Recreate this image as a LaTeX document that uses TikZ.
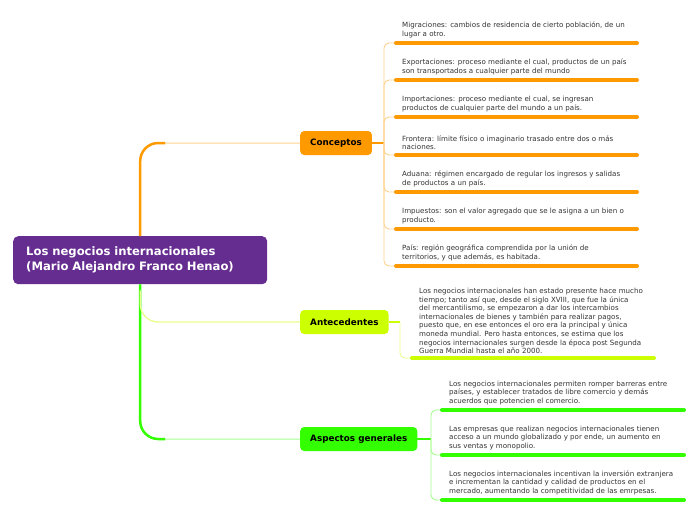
\documentclass[tikz,border=0pt]{standalone}
\usepackage{fontspec}
\setmainfont{DejaVu Sans}
\usetikzlibrary{positioning}
\definecolor{rootpurple}{HTML}{662D91}
\definecolor{concorange}{HTML}{FF9900}
\definecolor{antlime}{HTML}{CCFF00}
\definecolor{aspgreen}{HTML}{33FF00}
\definecolor{leafgray}{HTML}{333333}

\begin{document}
\begin{tikzpicture}[x=1pt, y=-1pt,
  topic/.style={fill=#1, rounded corners=4pt, anchor=west, inner xsep=10pt,
                minimum height=24pt, font=\fontsize{8.8}{10}\selectfont\bfseries},
  leaf/.style={anchor=south west, inner sep=0pt, align=left, text=leafgray,
               font=\fontsize{7.1}{8.6}\selectfont},
  uline/.style={line width=4pt, line cap=round, #1},
  trunk/.style={line width=2.5pt, rounded corners=18pt, #1},
  twig/.style={line width=1pt, rounded corners=18pt, #1!45},
  brk/.style={line width=0.9pt, rounded corners=5pt, #1!45},
]
\useasboundingbox (0,0) rectangle (696,520);
% Nodos
\node[fill=rootpurple, rounded corners=5pt, anchor=north west, text=white,
      minimum width=254pt, minimum height=48pt, text width=228pt, inner xsep=13pt,
      align=left, font=\fontsize{11.6}{15}\selectfont\bfseries]
      (root) at (13,236) {Los negocios internacionales\\(Mario Alejandro Franco Henao)};
\node[topic=concorange] (conc) at (300,143) {Conceptos};
\node[topic=antlime]    (ant)  at (300,322) {Antecedentes};
\node[topic=aspgreen]   (asp)  at (300,439) {Aspectos generales};
% Ramas principales
\coordinate (concbend) at (165,143);
\coordinate (aspbend)  at (165,439);
\draw[twig=concorange] (root.north) |- (conc.west);
\draw[trunk=concorange] (root.north) |- (concbend);
\draw[twig=aspgreen] (root.south) |- (asp.west);
\draw[trunk=aspgreen] (root.south) |- (aspbend);
\draw[twig=antlime, line width=1.3pt] ([yshift=-6pt]root.south) |- (ant.west);
% Conceptos
\node[leaf] (c1) at (402,38)  {Migraciones: cambios de residencia de cierto población, de un\\lugar a otro.};
\node[leaf] (c2) at (402,75)  {Exportaciones: proceso mediante el cual, productos de un país\\son transportados a cualquier parte del mundo};
\node[leaf] (c3) at (402,112) {Importaciones: proceso mediante el cual, se ingresan\\productos de cualquier parte del mundo a un país.};
\node[leaf] (c4) at (402,150) {Frontera: límite físico o imaginario trasado entre dos o más\\naciones.};
\node[leaf] (c5) at (402,187) {Aduana: régimen encargado de regular los ingresos y salidas\\de productos a un país.};
\node[leaf] (c6) at (402,224) {Impuestos: son el valor agregado que se le asigna a un bien o\\producto.};
\node[leaf] (c7) at (402,261) {País: región geográfica comprendida por la unión de\\territorios, y que además, es habitada.};
\coordinate (cj) at (384,143);
\coordinate (cu1) at (396,43);
\coordinate (cu2) at (396,80);
\coordinate (cu3) at (396,117);
\coordinate (cu4) at (396,155);
\coordinate (cu5) at (396,192);
\coordinate (cu6) at (396,229);
\coordinate (cu7) at (396,266);
\draw[line width=2pt, concorange] (conc.east) -- (cj);
\foreach \u in {cu1,cu2,cu3,cu4,cu5,cu6,cu7}{
  \draw[brk=concorange] (cj) |- (\u);
  \draw[uline=concorange] (\u) -- ++(241,0);
}
% Antecedentes
\node[leaf] (a1) at (419,354) {Los negocios internacionales han estado presente hace mucho\\tiempo; tanto así que, desde el siglo XVIII, que fue la única\\del mercantilismo, se empezaron a dar los intercambios\\internacionales de bienes y también para realizar pagos,\\puesto que, en ese entonces el oro era la principal y única\\moneda mundial. Pero hasta entonces, se estima que los\\negocios internacionales surgen desde la época post Segunda\\Guerra Mundial hasta el año 2000.};
\coordinate (aj) at (400,322);
\coordinate (au1) at (412,358);
\draw[line width=2pt, antlime] (ant.east) -- (aj);
\draw[brk=antlime] (aj) |- (au1);
\draw[uline=antlime] (au1) -- ++(242,0);
% Aspectos generales
\node[leaf] (g1) at (449,405) {Los negocios internacionales permiten romper barreras entre\\países, y establecer tratados de libre comercio y demás\\acuerdos que potencien el comercio.};
\node[leaf] (g2) at (449,450) {Las empresas que realizan negocios internacionales tienen\\acceso a un mundo globalizado y por ende, un aumento en\\sus ventas y monopolio.};
\node[leaf] (g3) at (449,495) {Los negocios internacionales incentivan la inversión extranjera\\e incrementan la cantidad y calidad de productos en el\\mercado, aumentando la competitividad de las emrpesas.};
\coordinate (gj) at (431,439);
\coordinate (gu1) at (442,410);
\coordinate (gu2) at (442,455);
\coordinate (gu3) at (442,500);
\draw[line width=2pt, aspgreen] (asp.east) -- (gj);
\foreach \u in {gu1,gu2,gu3}{
  \draw[brk=aspgreen] (gj) |- (\u);
  \draw[uline=aspgreen] (\u) -- ++(242,0);
}
\end{tikzpicture}
\end{document}
